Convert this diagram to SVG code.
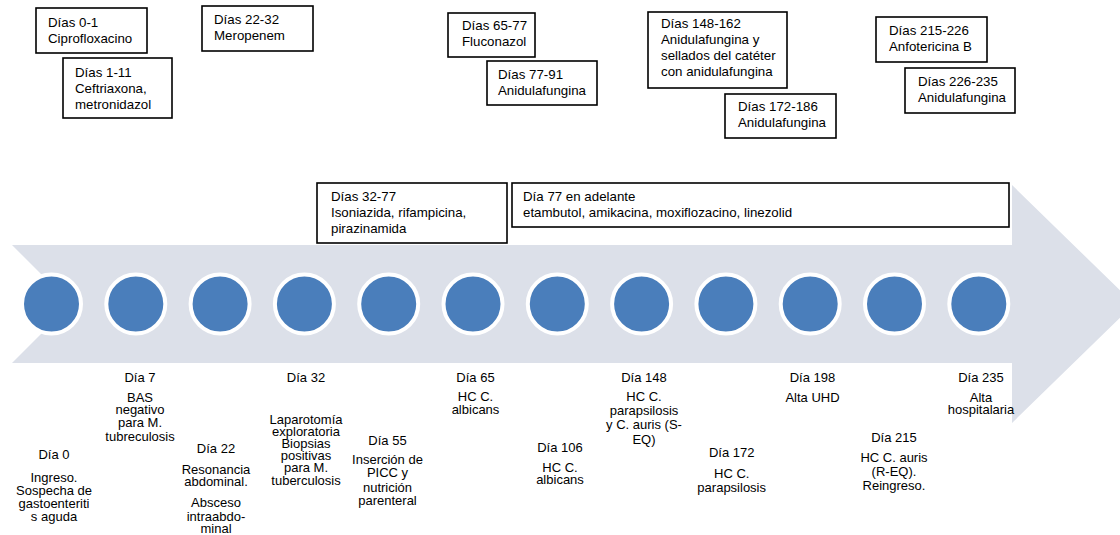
<svg xmlns="http://www.w3.org/2000/svg" width="1120" height="535" viewBox="0 0 1120 535">
<style>
.box{fill:#fff;stroke:#000;stroke-width:1.6}
.bt{font-family:"Liberation Sans",Arial,sans-serif;font-size:13.3px;fill:#000}
.lt{font-family:"Liberation Sans",Arial,sans-serif;font-size:13px;fill:#000;text-anchor:middle}
.dot{fill:#4A7EBB;stroke:#fff;stroke-width:4}
</style>
<rect width="1120" height="535" fill="#fff"/>
<g id="arrow">
<path d="M12,245 L1012,245 L1012,185 L1134,304 L1012,423 L1012,363 L12,363 L71,304 Z" fill="#DCE0E9"/>
</g>
<g id="connectors"></g>
<g id="boxes">
<g id="b1"><rect class="box" x="36" y="8" width="111" height="45"/><text class="bt" x="48" y="27">Días 0-1<tspan x="48" y="43">Ciprofloxacino</tspan></text></g>
<g id="b2"><rect class="box" x="63" y="58" width="109" height="60"/><text class="bt" x="75" y="77">Días 1-11<tspan x="75" y="93">Ceftriaxona,</tspan><tspan x="75" y="109">metronidazol</tspan></text></g>
<g id="b3"><rect class="box" x="202" y="6" width="111" height="45"/><text class="bt" x="214" y="24">Días 22-32<tspan x="214" y="40">Meropenem</tspan></text></g>
<g id="b4"><rect class="box" x="448" y="13" width="87" height="44"/><text class="bt" x="462" y="30">Días 65-77<tspan x="462" y="46">Fluconazol</tspan></text></g>
<g id="b5"><rect class="box" x="487" y="61" width="110" height="44"/><text class="bt" x="498" y="79">Días 77-91<tspan x="498" y="95">Anidulafungina</tspan></text></g>
<g id="b6"><rect class="box" x="648" y="12" width="139" height="76"/><text class="bt" x="661" y="28">Días 148-162<tspan x="661" y="44">Anidulafungina y</tspan><tspan x="661" y="60">sellados del catéter</tspan><tspan x="661" y="76">con anidulafungina</tspan></text></g>
<g id="b7"><rect class="box" x="725" y="94" width="111" height="44"/><text class="bt" x="738" y="111">Días 172-186<tspan x="738" y="127">Anidulafungina</tspan></text></g>
<g id="b8"><rect class="box" x="876" y="17" width="111" height="45"/><text class="bt" x="889" y="35">Días 215-226<tspan x="889" y="51">Anfotericina B</tspan></text></g>
<g id="b9"><rect class="box" x="905" y="68" width="110" height="45"/><text class="bt" x="918" y="86">Días 226-235<tspan x="918" y="102">Anidulafungina</tspan></text></g>
<g id="b10"><rect class="box" x="317" y="183" width="190" height="60"/><text class="bt" x="331" y="201">Días 32-77<tspan x="331" y="217">Isoniazida, rifampicina,</tspan><tspan x="331" y="233">pirazinamida</tspan></text></g>
<g id="b11"><rect class="box" x="512" y="183" width="497" height="44"/><text class="bt" x="523" y="201">Día 77 en adelante<tspan x="523" y="217">etambutol, amikacina, moxiflozacino, linezolid</tspan></text></g>
</g>
<g id="dots">
<circle class="dot" cx="51.5" cy="304" r="29.5"/>
<circle class="dot" cx="135.8" cy="304" r="29.5"/>
<circle class="dot" cx="220.1" cy="304" r="29.5"/>
<circle class="dot" cx="304.4" cy="304" r="29.5"/>
<circle class="dot" cx="388.7" cy="304" r="29.5"/>
<circle class="dot" cx="473" cy="304" r="29.5"/>
<circle class="dot" cx="557.3" cy="304" r="29.5"/>
<circle class="dot" cx="641.6" cy="304" r="29.5"/>
<circle class="dot" cx="725.9" cy="304" r="29.5"/>
<circle class="dot" cx="810.2" cy="304" r="29.5"/>
<circle class="dot" cx="894.5" cy="304" r="29.5"/>
<circle class="dot" cx="978.8" cy="304" r="29.5"/>
</g>
<g id="labels">
<g id="l0"><text class="lt" x="54" y="458.5">Día 0<tspan x="54" y="481.5">Ingreso.</tspan><tspan x="54" y="494.5">Sospecha de</tspan><tspan x="54" y="507.5">gastoenteriti</tspan><tspan x="54" y="520.5">s aguda</tspan></text></g>
<g id="l7"><text class="lt" x="140" y="381.5">Día 7<tspan x="140" y="401.5">BAS</tspan><tspan x="140" y="413.5">negativo</tspan><tspan x="140" y="426.5">para M.</tspan><tspan x="140" y="440.5">tubreculosis</tspan></text></g>
<g id="l22"><text class="lt" x="216" y="452.5">Día 22<tspan x="216" y="473.5">Resonancia</tspan><tspan x="216" y="485.5">abdominal.</tspan><tspan x="216" y="506.5">Absceso</tspan><tspan x="216" y="520.5">intraabdo-</tspan><tspan x="216" y="532.5">minal</tspan></text></g>
<g id="l32"><text class="lt" x="306" y="381.5">Día 32<tspan x="306" y="423.5">Laparotomía</tspan><tspan x="306" y="435.7">exploratoria</tspan><tspan x="306" y="447.9">Biopsias</tspan><tspan x="306" y="460.1">positivas</tspan><tspan x="306" y="472.3">para M.</tspan><tspan x="306" y="484.5">tuberculosis</tspan></text></g>
<g id="l55"><text class="lt" x="387.5" y="444.5">Día 55<tspan x="387.5" y="463.5">Inserción de</tspan><tspan x="387.5" y="476.5">PICC y</tspan><tspan x="387.5" y="491.5">nutrición</tspan><tspan x="387.5" y="504.5">parenteral</tspan></text></g>
<g id="l65"><text class="lt" x="475.5" y="381.5">Día 65<tspan x="475.5" y="400.5">HC C.</tspan><tspan x="475.5" y="413.5">albicans</tspan></text></g>
<g id="l106"><text class="lt" x="560" y="451.5">Día 106<tspan x="560" y="471.5">HC C.</tspan><tspan x="560" y="483.5">albicans</tspan></text></g>
<g id="l148"><text class="lt" x="644" y="381.5">Día 148<tspan x="644" y="400.5">HC C.</tspan><tspan x="644" y="414.5">parapsilosis</tspan><tspan x="644" y="428.5">y C. auris (S-</tspan><tspan x="644" y="443.5">EQ)</tspan></text></g>
<g id="l172"><text class="lt" x="731.7" y="456.5">Día 172<tspan x="731.7" y="477.5">HC C.</tspan><tspan x="731.7" y="491.5">parapsilosis</tspan></text></g>
<g id="l198"><text class="lt" x="812.5" y="381.5">Día 198<tspan x="812.5" y="401.5">Alta UHD</tspan></text></g>
<g id="l215"><text class="lt" x="894" y="441.5">Día 215<tspan x="894" y="461.5">HC C. auris</tspan><tspan x="894" y="475.5">(R-EQ).</tspan><tspan x="894" y="489.5">Reingreso.</tspan></text></g>
<g id="l235"><text class="lt" x="981" y="381.5">Día 235<tspan x="981" y="401.5">Alta</tspan><tspan x="981" y="413.5">hospitalaria</tspan></text></g>
</g>
</svg>
